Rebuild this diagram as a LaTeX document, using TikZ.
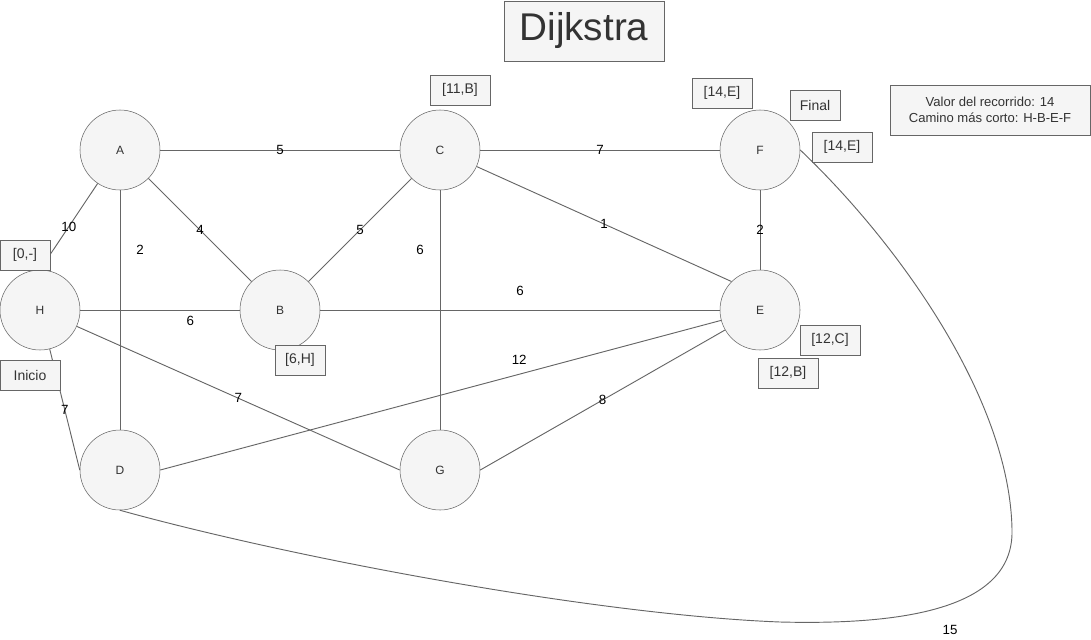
\documentclass[tikz,border=0pt]{standalone}
\usepackage{fontspec}
\setmainfont{Liberation Sans}
\usepackage{xcolor}
\definecolor{nodefill}{HTML}{F5F5F5}
\definecolor{nodeline}{HTML}{666666}
\definecolor{txt}{HTML}{333333}

\begin{document}
\begin{tikzpicture}[x=.75pt,y=-.75pt,
 vertex/.style={circle,draw=nodeline,fill=nodefill,minimum size=60pt,inner sep=0pt,
  font=\fontsize{9}{10}\selectfont,text=txt},
 tag/.style={rectangle,draw=nodeline,fill=nodefill,minimum width=45pt,minimum height=22.5pt,
  inner sep=0pt,font=\fontsize{10.5}{12}\selectfont,text=txt},
 wt/.style={font=\fontsize{10}{11}\selectfont,inner sep=1pt},
 edge/.style={draw=nodeline,line width=.7pt}]
 \useasboundingbox (0,0) rectangle (1091,639);
 % vertices
 \node[vertex] (A) at (120,150) {A};
 \node[vertex] (C) at (440,150) {C};
 \node[vertex] (F) at (760,150) {F};
 \node[vertex] (H) at (40,310) {H};
 \node[vertex] (B) at (280,310) {B};
 \node[vertex] (E) at (760,310) {E};
 \node[vertex] (D) at (120,470) {D};
 \node[vertex] (G) at (440,470) {G};
 % weighted edges
 \draw[edge] (A) -- node[wt]{5} (C);
 \draw[edge] (C) -- node[wt]{7} (F);
 \draw[edge] (H.north) -- node[wt]{10} (A);
 \draw[edge] (A) -- node[wt,pos=.25,xshift=15pt]{2} (D);
 \draw[edge] (A) -- node[wt]{4} (B);
 \draw[edge] (C) -- node[wt]{5} (B);
 \draw[edge] (C) -- node[wt,pos=.25,xshift=-15pt]{6} (G);
 \draw[edge] (C) -- node[wt]{1} (E.north west);
 \draw[edge] (F) -- node[wt]{2} (E);
 \draw[edge] (H) -- node[wt,pos=.69,yshift=-8pt]{6} (B);
 \draw[edge] (B) -- node[wt,yshift=14pt]{6} (E);
 \draw[edge] (H) -- node[wt]{7} (G.west);
 \draw[edge] (H) -- node[wt]{7} (D.west);
 \draw[edge] (D.east) -- node[wt,pos=.64,yshift=10.5pt]{12} (E);
 \draw[edge] (G.east) -- node[wt]{8} (E);
 \draw[edge] (F.east) .. controls (900,245) and (1010,400) .. (1012,530)
  .. controls (1014,610) and (900,625) .. (780,622)
  .. controls (600,615) and (300,560) .. (D.south);
 \node[wt] (w15) at (950,630) {15};
 % distance tags
 \node[tag] (tC) at (460,90) {[11,B]};
 \node[tag] (tF1) at (722,93) {[14,E]};
 \node[tag,minimum width=37.5pt] (fin) at (815,105) {Final};
 \node[tag] (tF2) at (842,147) {[14,E]};
 \node[tag,minimum width=37.5pt] (tH) at (25,255) {[0,-]};
 \node[tag] (ini) at (30,375) {Inicio};
 \node[tag,minimum width=37.5pt] (tB) at (300,360) {[6,H]};
 \node[tag] (tE1) at (830,340) {[12,C]};
 \node[tag] (tE2) at (788,373) {[12,B]};
 % title and result
 \node[tag,minimum width=120pt,minimum height=45pt,font=\fontsize{29}{34}\selectfont]
  (title) at (584,31) {Dijkstra};
 \node[tag,minimum width=150pt,minimum height=37.5pt,align=center,
  font=\fontsize{9.8}{12}\selectfont] (res) at (990,110)
  {Valor del recorrido: 14\\Camino más corto: H-B-E-F};
\end{tikzpicture}
\end{document}
